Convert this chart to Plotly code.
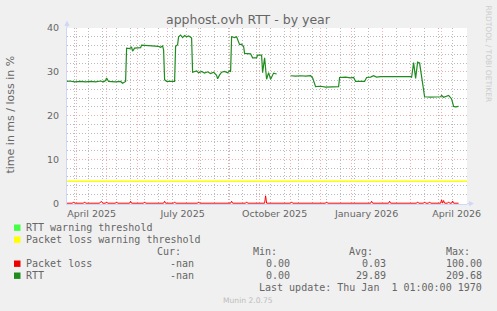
import plotly.graph_objects as go

# ---------------- data ----------------
title_text = "apphost.ovh RTT - by year"
y_title = "time in ms / loss in %"

rtt_dates = [
    "2025-03-22", "2025-03-25", "2025-03-30", "2025-04-05", "2025-04-10", "2025-04-15",
    "2025-04-20", "2025-04-25", "2025-04-28", "2025-04-30", "2025-05-01", "2025-05-03",
    "2025-05-10", "2025-05-15", "2025-05-17", "2025-05-19", "2025-05-20", "2025-05-21",
    "2025-05-24", "2025-05-26", "2025-05-27", "2025-05-29", "2025-06-04", "2025-06-05",
    "2025-06-14", "2025-06-19", "2025-06-22", "2025-06-24", "2025-06-26", "2025-06-27",
    "2025-06-28", "2025-06-30", "2025-07-06", "2025-07-08", "2025-07-09", "2025-07-11",
    "2025-07-12", "2025-07-14", "2025-07-16", "2025-07-18", "2025-07-20", "2025-07-22",
    "2025-07-24", "2025-07-25", "2025-07-26", "2025-07-30", "2025-08-01", "2025-08-04",
    "2025-08-07", "2025-08-10", "2025-08-13", "2025-08-16", "2025-08-19", "2025-08-20",
    "2025-08-22", "2025-08-24", "2025-08-27", "2025-08-30", "2025-09-01", "2025-09-02",
    "2025-09-03", "2025-09-06", "2025-09-08", "2025-09-09", "2025-09-11", "2025-09-13",
    "2025-09-15", "2025-09-16", "2025-09-22", "2025-09-24", "2025-09-28", "2025-09-29",
    "2025-10-03", "2025-10-04", "2025-10-06", "2025-10-08", "2025-10-10", "2025-10-12",
    "2025-10-15", "2025-10-18", "2025-10-24", "2025-11-01", "2025-11-06", "2025-11-11",
    "2025-11-16", "2025-11-21", "2025-11-23", "2025-11-26", "2025-12-01", "2025-12-06",
    "2025-12-11", "2025-12-19", "2025-12-20", "2025-12-26", "2025-12-31", "2026-01-03",
    "2026-01-05", "2026-01-10", "2026-01-14", "2026-01-16", "2026-01-20", "2026-01-23",
    "2026-01-26", "2026-01-30", "2026-02-09", "2026-02-19", "2026-03-01", "2026-03-02",
    "2026-03-04", "2026-03-06", "2026-03-08", "2026-03-10", "2026-03-15", "2026-03-21",
    "2026-03-26", "2026-03-31", "2026-04-01", "2026-04-03", "2026-04-08", "2026-04-10",
    "2026-04-11", "2026-04-13", "2026-04-15", "2026-04-18",
]
rtt_ms = [
    27.8, 27.9, 27.7, 27.8, 27.7, 27.8,
    27.7, 27.9, 27.7, 28.0, 28.6, 27.8,
    27.7, 27.8, 27.4, 27.8, 27.8, 35.4,
    35.3, 35.6, 34.7, 35.4, 35.5, 36.1,
    36.0, 35.9, 35.8, 35.6, 35.9, 35.0,
    28.2, 27.8, 27.7, 27.8, 35.8, 36.2,
    38.0, 38.4, 37.8, 38.3, 38.0, 38.2,
    37.9, 37.7, 29.9, 30.2, 29.8, 30.1,
    29.7, 30.0, 29.6, 29.9, 29.2, 28.4,
    29.3, 29.9, 30.1, 29.8, 30.2, 30.0,
    38.0, 37.8, 38.0, 37.2, 36.2, 36.3,
    35.8, 34.2, 34.1, 33.2, 33.2, 33.8,
    33.8, 29.8, 33.2, 28.3, 29.8, 28.3,
    29.7, 29.5, None, 29.1, 29.0, 29.1,
    29.0, 29.1, 28.6, 26.6, 26.7, 26.5,
    26.6, 26.6, 28.7, 28.8, 28.6, 28.7,
    27.8, 27.8, 27.8, 28.7, 28.8, 29.1,
    28.8, 28.9, 28.9, 28.9, 28.9, 28.7,
    32.1, 28.5, 32.2, 32.0, 24.3, 24.2,
    24.3, 24.3, 24.6, 24.2, 24.6, 24.2,
    23.8, 22.1, 22.0, 22.1,
]

loss_dates = [
    "2025-03-22", "2025-03-28", "2025-03-29", "2025-03-30",
    "2025-04-08", "2025-04-09", "2025-04-10",
    "2025-04-24", "2025-04-25", "2025-04-26", "2025-04-27",
    "2025-04-30", "2025-05-01", "2025-05-02",
    "2025-05-10", "2025-05-11", "2025-05-12",
    "2025-05-24", "2025-05-25", "2025-05-26",
    "2025-06-07", "2025-06-08", "2025-06-09",
    "2025-06-27", "2025-06-28", "2025-06-29",
    "2025-07-07", "2025-07-08", "2025-07-09",
    "2025-07-31", "2025-08-01", "2025-08-02",
    "2025-09-02", "2025-09-03", "2025-09-04",
    "2025-09-17", "2025-09-18", "2025-09-19",
    "2025-10-06", "2025-10-07", "2025-10-08",
    "2025-11-01", "2025-11-02", "2025-11-03",
    "2025-12-06", "2025-12-07", "2025-12-08",
    "2026-01-20", "2026-01-21", "2026-01-22",
    "2026-02-07", "2026-02-08", "2026-02-09",
    "2026-03-07", "2026-03-08", "2026-03-09",
    "2026-03-14", "2026-03-15", "2026-03-16",
    "2026-03-19", "2026-03-20", "2026-03-21",
    "2026-03-31", "2026-04-01", "2026-04-02", "2026-04-03", "2026-04-04",
    "2026-04-07", "2026-04-08", "2026-04-09",
    "2026-04-11", "2026-04-12", "2026-04-13",
    "2026-04-18",
]
loss_pct = [
    0, 0, 0.3, 0,
    0, 0.3, 0,
    0, 0.3, 0.4, 0,
    0, 0.3, 0,
    0, 0.3, 0,
    0, 0.45, 0,
    0, 0.3, 0,
    0, 0.45, 0,
    0, 0.3, 0,
    0, 0.3, 0,
    0, 0.45, 0,
    0, 0.3, 0,
    0, 1.7, 0,
    0, 0.3, 0,
    0, 0.3, 0,
    0, 0.45, 0,
    0, 0.45, 0,
    0, 0.3, 0,
    0, 0.3, 0,
    0, 0.3, 0,
    0, 0.75, 0, 0.6, 0,
    0, 0.3, 0,
    0, 0.5, 0,
    0,
]

loss_warning = 5
x_range = ["2025-03-22 09:36", "2026-04-26 09:36"]
y_ticks = [0, 10, 20, 30, 40]
month_label_vals = ["2025-04-16", "2025-07-16", "2025-10-16", "2026-01-16", "2026-04-16"]
month_label_text = ["April 2025", "July 2025", "October 2025", "January 2026", "April 2026"]

legend_names = ["RTT warning threshold", "Packet loss warning threshold", "Packet loss", "RTT"]
legend_colors = ["#44FF44", "#FFFF00", "#EE0000", "#1E8C1E"]
stat_headers = ["Cur:", "Min:", "Avg:", "Max:"]
stat_loss = ["-nan", "0.00", "0.03", "100.00"]
stat_rtt = ["-nan", "0.00", "29.89", "209.68"]
last_update = "Last update: Thu Jan\u00a0\u00a01 01:00:00 1970"
version_text = "Munin 2.0.75"
watermark = "RRDTOOL / TOBI OETIKER"

# ---------------- layout helpers (pixel -> paper) ----------------
W, H = 497, 311
L, R, T, B = 67, 467, 28, 204


def px(x):
    return (x - L) / (R - L)


def py(y):
    return (B - y) / (B - T)


FONT = "DejaVu Sans"
MONO = "DejaVu Sans Mono"
TXT = "#666666"
AXIS = "#CFD6F8"
MGRID = "#F2AFAF"
GRID = "#BBBBBB"
DASH = "1px,2px"

fig = go.Figure()
fig.add_trace(go.Scatter(x=x_range, y=[loss_warning, loss_warning], mode="lines",
                         line=dict(color="#FFFF00", width=1.5), xaxis="x2", yaxis="y",
                         hoverinfo="skip", showlegend=False))
fig.add_trace(go.Scatter(x=loss_dates, y=loss_pct, mode="lines",
                         line=dict(color="#FF0000", width=1), showlegend=False))
fig.add_trace(go.Scatter(x=rtt_dates, y=rtt_ms, mode="lines", connectgaps=False,
                         line=dict(color="#1E8C1E", width=1.2), showlegend=False))

y_lo = -(B - T - 175.2) / 4.38

fig.update_layout(
    width=W, height=H,
    margin=dict(l=L, r=W - R, t=T, b=H - B, pad=0),
    paper_bgcolor="#F0F0F0", plot_bgcolor="#FFFFFF",
    showlegend=False,
    xaxis=dict(type="date", range=x_range, showticklabels=False,
               tickmode="linear", tick0="2025-04-01", dtick="M1",
               showgrid=True, gridcolor=MGRID, griddash=DASH, gridwidth=1,
               minor=dict(tick0="2025-03-30", dtick=14 * 86400000, showgrid=True,
                          gridcolor=GRID, griddash=DASH, gridwidth=1),
               showline=True, linecolor=AXIS, linewidth=1, zeroline=False,
               layer="below traces", ticks=""),
    xaxis2=dict(type="date", range=x_range, overlaying="x", anchor="y", side="bottom",
                tickmode="array", tickvals=month_label_vals, ticktext=month_label_text,
                showgrid=False, showline=False, zeroline=False, ticks="",
                tickfont=dict(family=FONT, size=9.5, color=TXT), ticklabelstandoff=2),
    yaxis=dict(range=[y_lo, 40], tickmode="array", tickvals=y_ticks,
               showgrid=True, gridcolor=MGRID, griddash=DASH, gridwidth=1,
               minor=dict(tick0=0, dtick=2, showgrid=True, gridcolor=GRID,
                          griddash=DASH, gridwidth=1),
               showline=True, linecolor=AXIS, linewidth=1, zeroline=False,
               ticks="", tickfont=dict(family=FONT, size=9.5, color=TXT),
               ticklabelstandoff=5, layer="below traces"),
)

ann = []
ann.append(dict(text=title_text, x=px(248), y=py(19.5), xanchor="center", yanchor="middle",
                font=dict(family=FONT, size=12.5, color=TXT)))
ann.append(dict(text=y_title, x=px(10.5), y=py(115), xanchor="center", yanchor="middle",
                textangle=-90, font=dict(family=FONT, size=11, color=TXT)))
ann.append(dict(text=watermark, x=px(488), y=py(53.5), xanchor="center", yanchor="middle",
                textangle=90, font=dict(family=FONT, size=7.5, color="#CCCCCC")))
ann.append(dict(text=version_text, x=px(248), y=py(300), xanchor="center", yanchor="middle",
                font=dict(family=FONT, size=7.6, color="#BDBDBD")))

row_y = [227.7, 239.7, 263.7, 275.7]
for name, yy in zip(legend_names, row_y):
    ann.append(dict(text=name, x=px(25.3), y=py(yy), xanchor="left", yanchor="middle",
                    font=dict(family=MONO, size=10, color=TXT)))

hdr_right = [182, 278, 374, 471]
val_right = [195, 291, 386.7, 483.3]
for h, xr in zip(stat_headers, hdr_right):
    ann.append(dict(text=h, x=px(xr), y=py(251.5), xanchor="right", yanchor="middle",
                    font=dict(family=MONO, size=10, color=TXT)))
for vals, yy in ((stat_loss, 263.7), (stat_rtt, 275.7)):
    for v, xr in zip(vals, val_right):
        ann.append(dict(text=v, x=px(xr), y=py(yy), xanchor="right", yanchor="middle",
                        font=dict(family=MONO, size=10, color=TXT)))
ann.append(dict(text=last_update, x=px(483.3), y=py(287.7), xanchor="right", yanchor="middle",
                font=dict(family=MONO, size=10, color=TXT)))

for a in ann:
    a.update(xref="paper", yref="paper", showarrow=False, borderpad=0)
fig.update_layout(annotations=ann)

shapes = []
for col, yy in zip(legend_colors, row_y):
    shapes.append(dict(type="rect", xref="paper", yref="paper",
                       x0=px(14), x1=px(20.5), y0=py(yy + 3.2), y1=py(yy - 3.2),
                       fillcolor=col, line=dict(width=0)))
# axis arrows
shapes.append(dict(type="line", xref="paper", yref="paper", x0=px(67), x1=px(67),
                   y0=py(28), y1=py(25), line=dict(color=AXIS, width=1)))
shapes.append(dict(type="path", xref="paper", yref="paper",
                   path=f"M {px(64.3)},{py(26)} L {px(67)},{py(20.5)} L {px(69.7)},{py(26)} Z",
                   fillcolor=AXIS, line=dict(width=0)))
shapes.append(dict(type="line", xref="paper", yref="paper", x0=px(467), x1=px(470),
                   y0=py(203.6), y1=py(203.6), line=dict(color=AXIS, width=1)))
shapes.append(dict(type="path", xref="paper", yref="paper",
                   path=f"M {px(469)},{py(201)} L {px(474)},{py(203.6)} L {px(469)},{py(206.2)} Z",
                   fillcolor=AXIS, line=dict(width=0)))
fig.update_layout(shapes=shapes)

fig.write_html("out.html")
